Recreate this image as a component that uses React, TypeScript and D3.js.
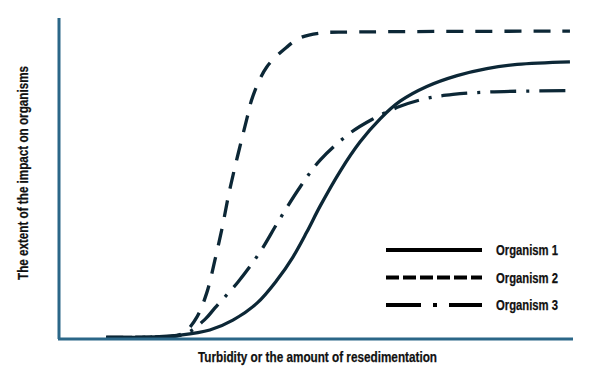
import React from "react";
import * as d3 from "d3";

const xs1 = [9.2, 17.7, 23.6, 29.4, 33.9, 38.6, 42.5, 45.6, 48.3, 50.9, 54.8, 58.7, 62.6, 66.5, 71.7, 77.6, 83.4, 89.3, 99.6];
const ys1 = [0.2, 0.3, 0.9, 2.5, 5.6, 10.9, 18.1, 25.3, 33.1, 41.2, 52.1, 61.3, 68.5, 74.0, 78.6, 82.0, 84.2, 85.5, 86.3];

const xs2 = [9.2, 17.7, 22.6, 24.6, 26.9, 28.8, 30.4, 31.8, 33.3, 36.6, 37.8, 40.5, 44.4, 47.0, 50.9, 56.7, 99.6];
const ys2 = [0.2, 0.3, 0.6, 1.9, 6.6, 14.1, 24.4, 34.4, 46.5, 68.4, 75.6, 84.7, 90.9, 93.8, 95.3, 95.6, 95.9];

const xs3 = [9.2, 17.7, 24.6, 28.5, 30.4, 34.9, 39.2, 42.7, 47.0, 50.9, 56.7, 61.0, 66.5, 71.7, 76.8, 84.0, 99.6];
const ys3 = [0.2, 0.3, 1.3, 5.9, 9.4, 17.5, 26.9, 36.3, 47.2, 55.6, 64.0, 68.3, 72.4, 74.9, 76.1, 76.9, 77.3];

const seriesNames = ["Organism 1", "Organism 2", "Organism 3"];
const dashes = ["none", "17,12", "26,10,3,10"];
const xLabel = "Turbidity or the amount of resedimentation";
const yLabel = "The extent of the impact on organisms";

const W = 600, H = 378;
const AXIS = "#2b6788";
const INK = "#0c2736";
const FONT = "'Liberation Sans', Arial, sans-serif";

export default function App() {
  const x = d3.scaleLinear().domain([0, 100]).range([59, 572]);
  const y = d3.scaleLinear().domain([0, 100]).range([338, 18]);
  const line = d3.line<[number, number]>().x(d => x(d[0])).y(d => y(d[1])).curve(d3.curveCatmullRom.alpha(0.5));
  const data = [
    xs1.map((v, i) => [v, ys1[i]] as [number, number]),
    xs2.map((v, i) => [v, ys2[i]] as [number, number]),
    xs3.map((v, i) => [v, ys3[i]] as [number, number]),
  ];
  const textProps = { fontFamily: FONT, fontWeight: "bold" as const, fontSize: 14.5, fill: "#111", stroke: "#111", strokeWidth: 0.25, lengthAdjust: "spacingAndGlyphs" as const };
  return (
    <svg width={W} height={H} style={{ position: "absolute", left: 0, top: 0 }}>
      <rect width={W} height={H} fill="#fff" />
      {data.map((d, i) => (
        <path key={i} d={line(d) || ""} fill="none" stroke={INK} strokeWidth={3.3} strokeDasharray={dashes[i]} />
      ))}
      <line x1={59} y1={18} x2={59} y2={339} stroke={AXIS} strokeWidth={3} />
      <line x1={58} y1={339} x2={573} y2={339} stroke={AXIS} strokeWidth={3} />
      {seriesNames.map((n, i) => {
        const ly = 250 + i * 27.5;
        return (
          <g key={n}>
            <line x1={386} x2={482} y1={ly} y2={ly} stroke="#000" strokeWidth={4} strokeDasharray={i === 0 ? "none" : i === 1 ? "13,4" : "35,12,4,12"} />
            <text x={496} y={ly + 5} textLength={62} {...textProps}>{n}</text>
          </g>
        );
      })}
      <text x={198} y={362} textLength={239} {...textProps}>{xLabel}</text>
      <text transform="translate(28,280) rotate(-90)" textLength={214} {...textProps}>{yLabel}</text>
    </svg>
  );
}
